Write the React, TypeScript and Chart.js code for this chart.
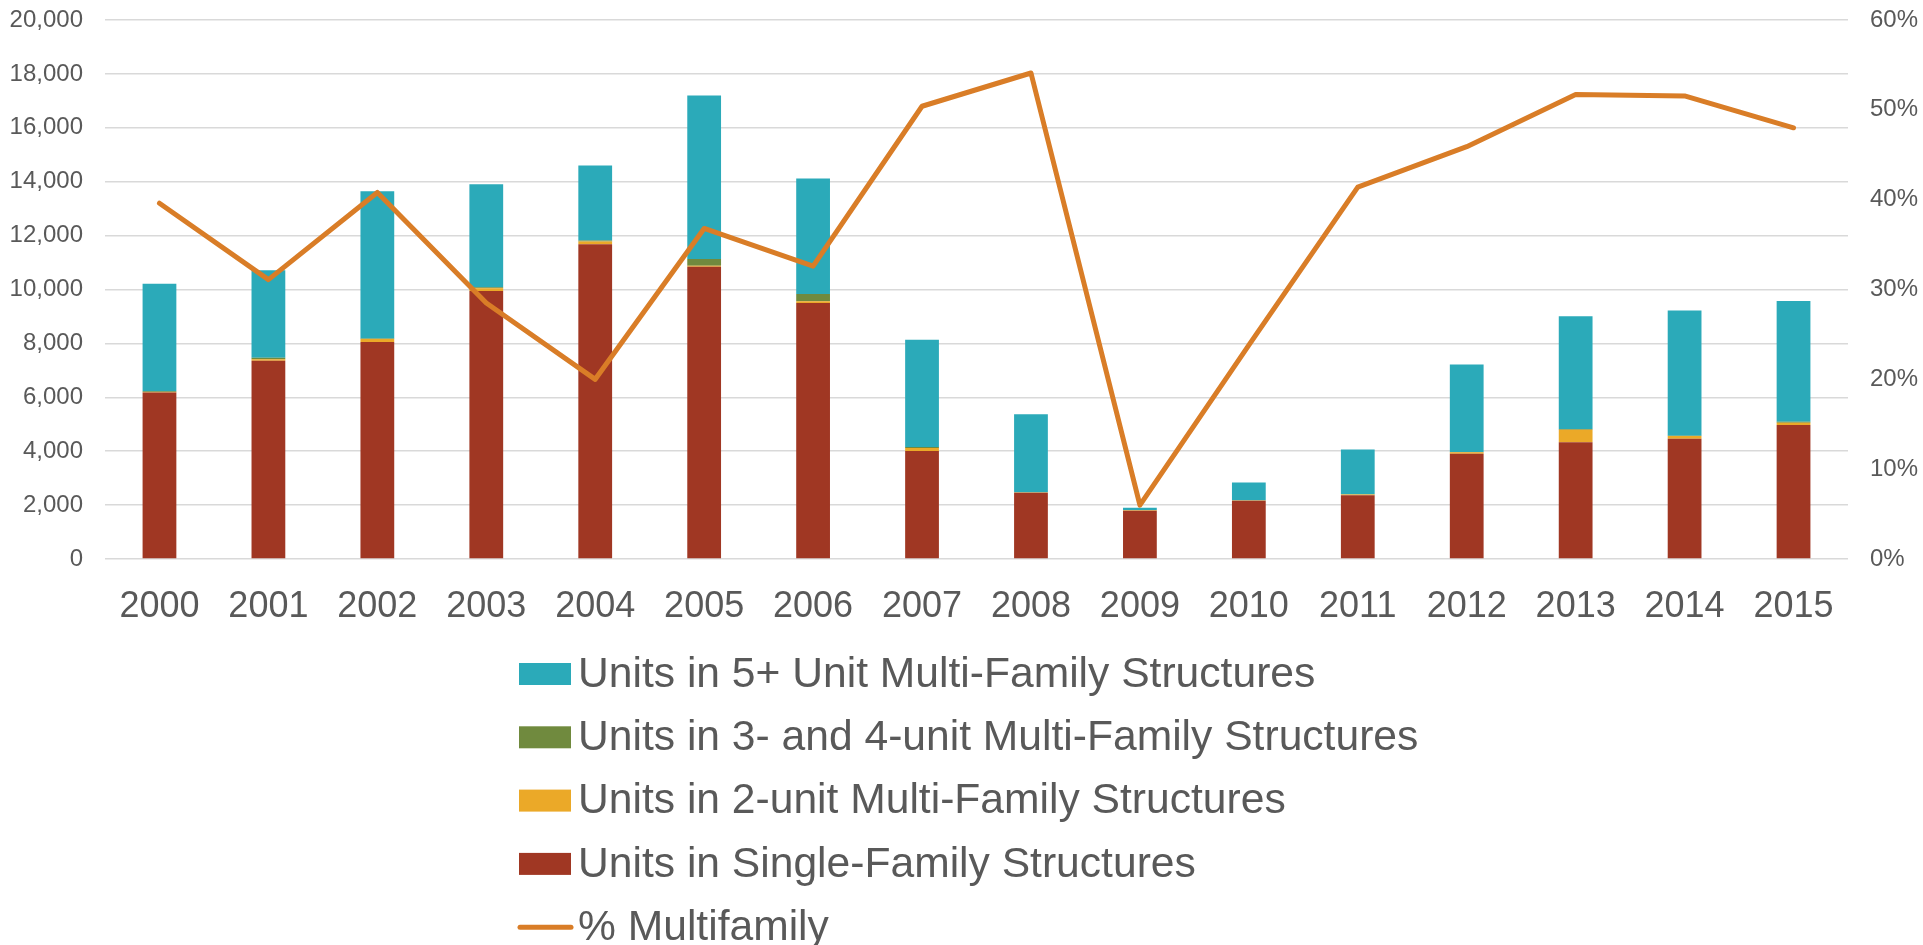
import React, { useEffect, useRef } from "react";
import { Chart, registerables } from "chart.js";

Chart.register(...registerables);

const years = ["2000", "2001", "2002", "2003", "2004", "2005", "2006", "2007", "2008", "2009", "2010", "2011", "2012", "2013", "2014", "2015"];
const singleFamily = [6180, 7360, 8050, 9940, 11680, 10840, 9500, 4010, 2460, 1790, 2160, 2370, 3910, 4330, 4460, 4970];
const twoUnit = [20, 50, 110, 110, 100, 40, 60, 110, 10, 20, 10, 20, 50, 470, 100, 85];
const threeFourUnit = [20, 60, 20, 30, 40, 255, 270, 40, 10, 10, 10, 10, 10, 20, 10, 40];
const fivePlusUnit = [3990, 3240, 5470, 3830, 2780, 6065, 4290, 3980, 2890, 80, 660, 1660, 3250, 4190, 4650, 4475];
const pctMultifamily = [39.6, 31.1, 40.8, 28.5, 20.0, 36.8, 32.6, 50.4, 54.1, 6.0, 23.8, 41.4, 45.9, 51.7, 51.55, 48.0];

const leftTicks = { min: 0, max: 20000, step: 2000 };
const rightTicks = { min: 0, max: 60, step: 10 };

const C_TEAL = "#2BAAB9";
const C_OLIVE = "#708A3E";
const C_YELLOW = "#EBA928";
const C_RED = "#A03723";
const C_ORANGE = "#D97D27";
const TEXT = "#595959";
const FONT = "'Liberation Sans', Arial, sans-serif";

const legendItems = [
  { label: "Units in 5+ Unit Multi-Family Structures", color: C_TEAL, line: false },
  { label: "Units in 3- and 4-unit Multi-Family Structures", color: C_OLIVE, line: false },
  { label: "Units in 2-unit Multi-Family Structures", color: C_YELLOW, line: false },
  { label: "Units in Single-Family Structures", color: C_RED, line: false },
  { label: "% Multifamily", color: C_ORANGE, line: true },
];

const verticalLegend = {
  id: "verticalLegend",
  afterDraw(chart: any) {
    const ctx = chart.ctx;
    ctx.save();
    ctx.font = `42.6px ${FONT}`;
    ctx.textBaseline = "middle";
    ctx.textAlign = "left";
    const x0 = 519;
    const y0 = 674;
    const step = 63.3;
    legendItems.forEach((it, i) => {
      const cy = y0 + i * step;
      if (it.line) {
        ctx.strokeStyle = it.color;
        ctx.lineWidth = 5;
        ctx.lineCap = "round";
        ctx.beginPath();
        ctx.moveTo(x0 + 1, cy);
        ctx.lineTo(x0 + 52, cy);
        ctx.stroke();
      } else {
        ctx.fillStyle = it.color;
        ctx.fillRect(x0, cy - 11, 52, 22);
      }
      ctx.fillStyle = TEXT;
      ctx.fillText(it.label, x0 + 59, cy + 1);
    });
    ctx.restore();
  },
};

export default function App() {
  const ref = useRef<HTMLCanvasElement | null>(null);
  useEffect(() => {
    document.body.style.margin = "0";
    const canvas = ref.current;
    if (!canvas) return;
    const barCommon = { yAxisID: "y", order: 2, barPercentage: 0.31, categoryPercentage: 1, borderWidth: 0 };
    const chart = new Chart(canvas, {
      type: "bar",
      data: {
        labels: years,
        datasets: [
          { ...barCommon, label: "Units in Single-Family Structures", data: singleFamily, backgroundColor: C_RED },
          { ...barCommon, label: "Units in 2-unit Multi-Family Structures", data: twoUnit, backgroundColor: C_YELLOW },
          { ...barCommon, label: "Units in 3- and 4-unit Multi-Family Structures", data: threeFourUnit, backgroundColor: C_OLIVE },
          { ...barCommon, label: "Units in 5+ Unit Multi-Family Structures", data: fivePlusUnit, backgroundColor: C_TEAL },
          {
            type: "line",
            label: "% Multifamily",
            data: pctMultifamily,
            yAxisID: "y1",
            order: 0,
            borderColor: C_ORANGE,
            backgroundColor: C_ORANGE,
            borderWidth: 5,
            pointRadius: 0,
            tension: 0,
            borderJoinStyle: "round",
            borderCapStyle: "round",
            fill: false,
          } as any,
        ],
      },
      options: {
        responsive: false,
        devicePixelRatio: 1,
        animation: false,
        layout: { padding: { top: 0, left: 0, right: 0, bottom: 0 } },
        plugins: { legend: { display: false }, tooltip: { enabled: false } },
        scales: {
          x: {
            stacked: true,
            grid: { display: false, drawTicks: false },
            border: { display: false },
            ticks: { color: TEXT, font: { family: FONT, size: 36 }, padding: 26, maxRotation: 0, autoSkip: false },
            afterFit: (s: any) => { s.height = 386; },
          },
          y: {
            position: "left",
            stacked: true,
            min: leftTicks.min,
            max: leftTicks.max,
            grid: { color: "#D9D9D9", lineWidth: 1.5, drawTicks: true, tickLength: 14, tickColor: "rgba(0,0,0,0)" },
            border: { display: false },
            ticks: {
              stepSize: leftTicks.step,
              color: TEXT,
              font: { family: FONT, size: 24, lineHeight: 1 },
              padding: 8,
              callback: (v: any) => Number(v).toLocaleString("en-US"),
            },
            afterFit: (s: any) => { s.width = 105; },
          },
          y1: {
            position: "right",
            min: rightTicks.min,
            max: rightTicks.max,
            grid: { display: true, drawOnChartArea: false, color: "rgba(0,0,0,0)", drawTicks: true, tickLength: 14, tickColor: "rgba(0,0,0,0)" },
            border: { display: false },
            ticks: {
              stepSize: rightTicks.step,
              color: TEXT,
              font: { family: FONT, size: 24, lineHeight: 1 },
              padding: 8,
              callback: (v: any) => `${v}%`,
            },
            afterFit: (s: any) => { s.width = 75; },
          },
        },
      },
      plugins: [verticalLegend],
    });
    return () => chart.destroy();
  }, []);
  return (
    <div style={{ width: 1923, height: 945 }}>
      <canvas ref={ref} width={1923} height={945} />
    </div>
  );
}
